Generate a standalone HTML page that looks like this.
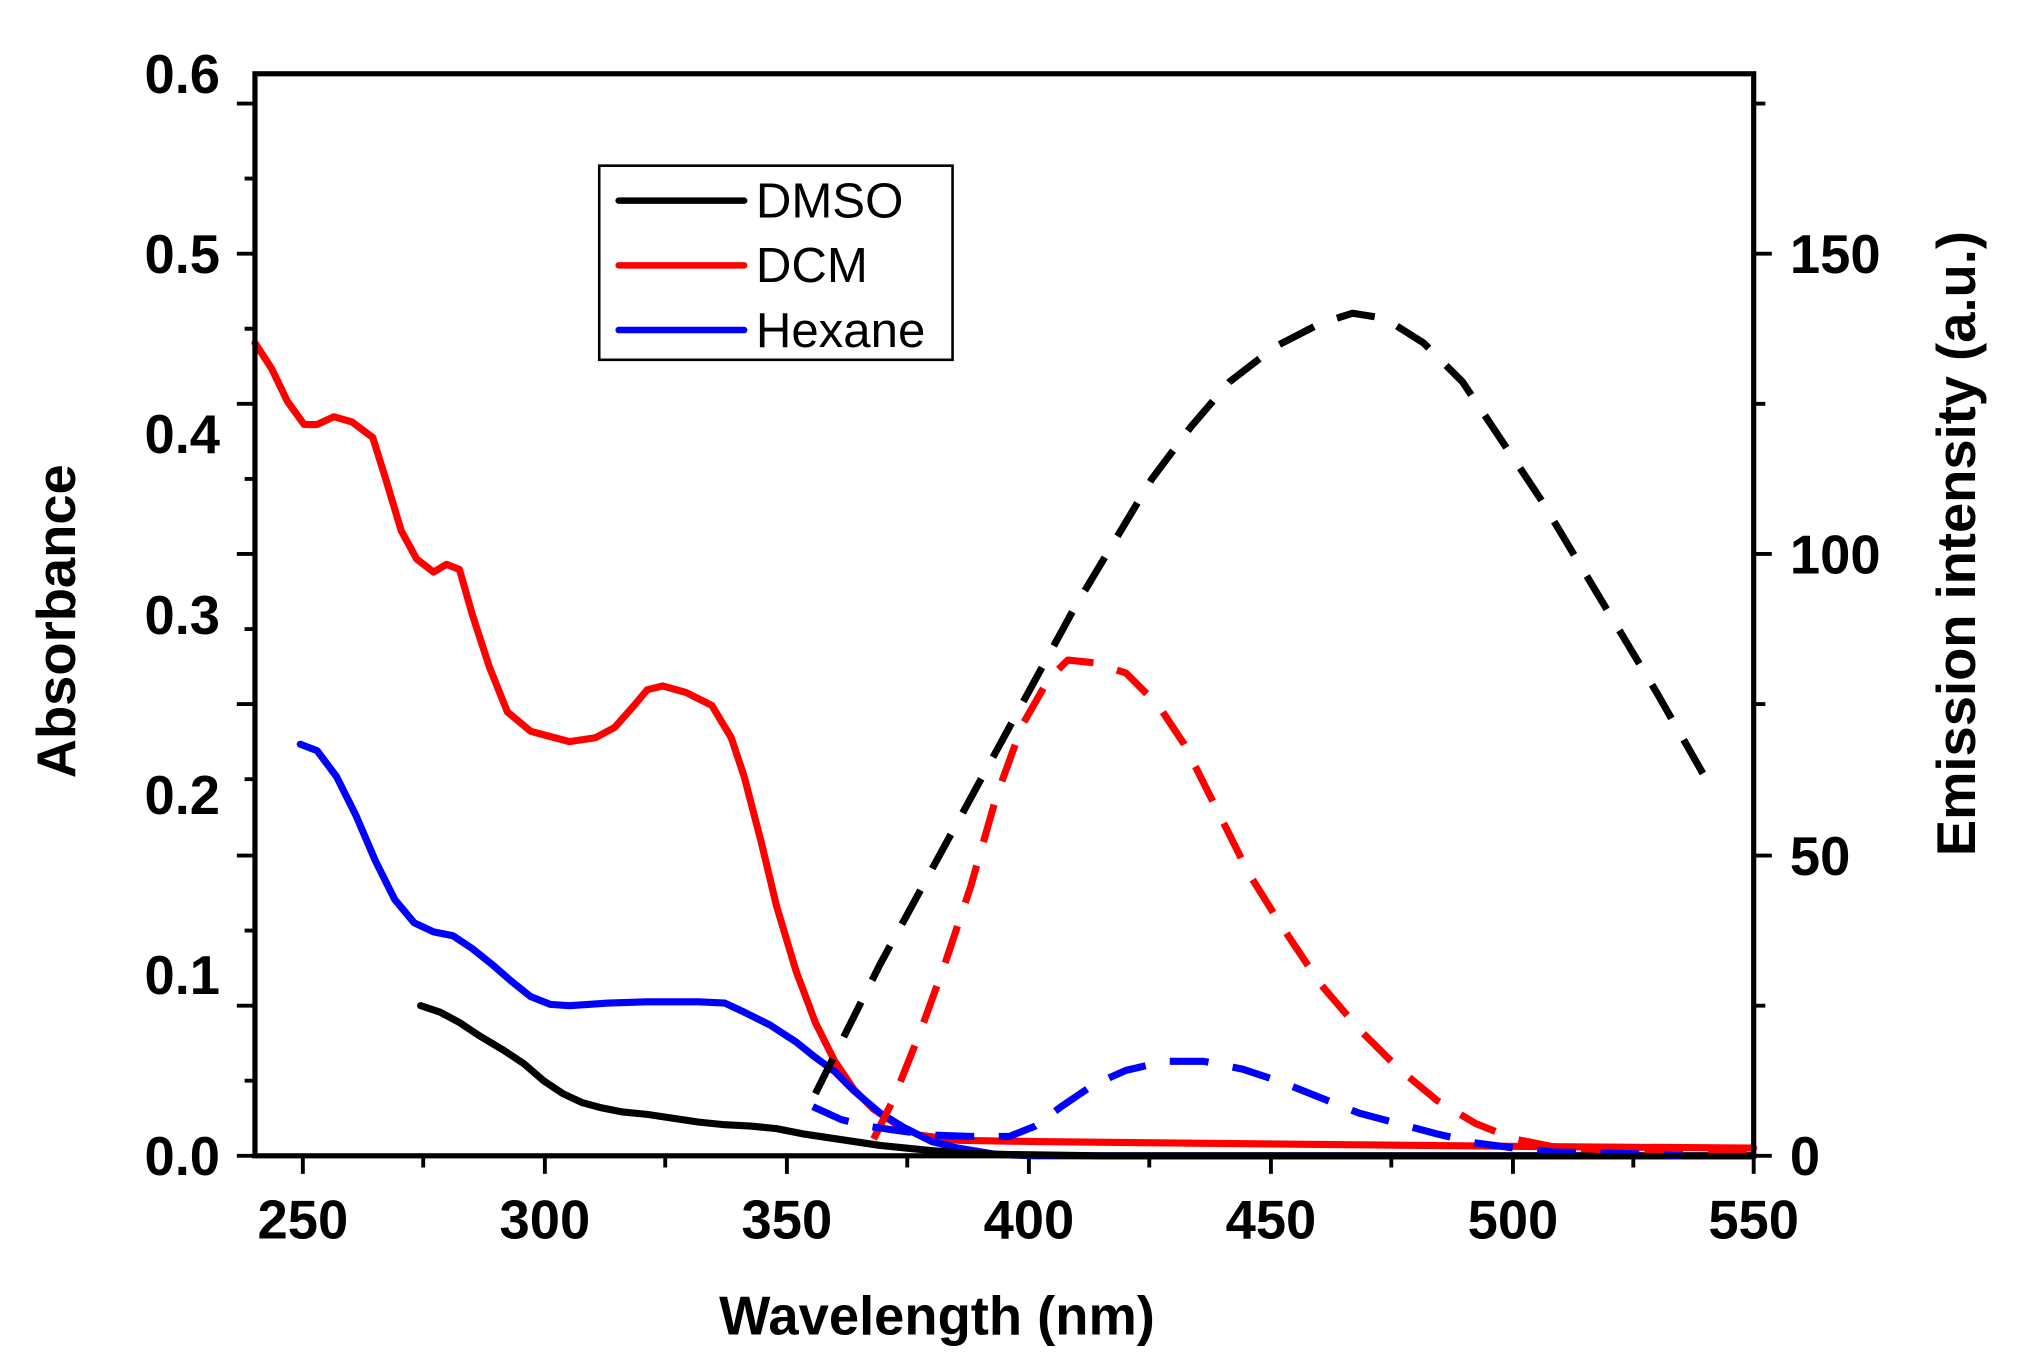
<!DOCTYPE html>
<html><head><meta charset="utf-8"><style>
html,body{margin:0;padding:0;background:#fff;}
svg{display:block;}
text{font-family:"Liberation Sans",Arial,sans-serif;}
.t{font-weight:bold;font-size:42px;}
</style></head><body>
<svg width="2019" height="1359" viewBox="0 0 1560 1050" preserveAspectRatio="none" xmlns="http://www.w3.org/2000/svg">
<rect width="1560" height="1050" fill="#fff"/>
<g stroke="#000" stroke-width="3" fill="none">
<path d="M197 893H183M197 777H183M197 661H183M197 544H183M197 428H183M197 312H183M197 196H183M197 80H183M197 835H189M197 719H189M197 602H189M197 486H189M197 370H189M197 254H189M197 138H189"/>
<path d="M234 893V907M421 893V907M608 893V907M795 893V907M982 893V907M1169 893V907M1355 893V907M327 893V902M514 893V902M701 893V902M888 893V902M1075 893V902M1262 893V902"/>
<path d="M1355 893H1369M1355 661H1369M1355 428H1369M1355 196H1369M1355 777H1364M1355 544H1364M1355 312H1364M1355 80H1364"/>
</g>
<g fill="none" stroke-linejoin="round" stroke-linecap="round" stroke-width="5.5">
<polyline stroke="#ff0000" points="197,265 210,285 222,310 235,328 245,328 258,322 272,326 288,338 298,370 310,410 322,432 335,442 345,436 355,440 365,475 378,515 392,550 410,565 440,573 460,570 475,562 490,545 500,533 512,530 530,535 550,545 565,570 575,600 588,650 600,700 615,750 630,790 645,820 660,842 675,857 690,867 710,877 740,881 800,882 1000,884 1200,886 1355,887"/>
<polyline stroke="#0000ff" points="232,575 245,580 260,600 275,630 290,665 305,695 320,713 335,720 350,723 365,733 380,745 395,758 410,770 425,776 440,777 470,775 500,774 540,774 560,775 575,782 595,792 615,805 630,817 645,828 660,843 680,860 700,872 720,882 740,887 770,892 800,893 1355,893"/>
<polyline stroke="#000" points="325,777 340,782 355,790 370,800 390,812 405,822 420,835 435,845 450,852 465,856 480,859 500,861 520,864 540,867 560,869 580,870 600,872 620,876 640,879 660,882 680,885 700,887 720,889 745,891 780,892 850,893 1355,893"/>
<g stroke-dasharray="30 19" stroke-linecap="butt">
<polyline stroke="#000" points="630,845 655,795 680,745 710,690 740,635 770,580 800,525 830,470 860,420 890,370 920,330 950,295 985,268 1020,250 1045,242 1070,246 1100,265 1130,295 1160,340 1190,385 1220,435 1250,485 1280,535 1300,570 1320,605"/>
<polyline stroke="#ff0000" points="675,880 690,850 710,800 730,745 750,685 770,615 790,560 810,525 825,510 845,512 870,520 895,545 915,575 940,625 965,675 990,715 1020,760 1050,795 1080,825 1110,850 1140,868 1170,880 1200,886 1250,889 1355,889"/>
<polyline stroke="#0000ff" points="628,855 650,865 670,870 690,873 720,877 750,878 780,878 800,870 820,855 845,838 870,827 900,820 930,820 960,826 990,836 1020,848 1050,860 1080,868 1110,876 1140,883 1170,887 1200,890 1250,891 1300,893"/>
</g>
</g>
<rect x="197" y="57" width="1158" height="836" fill="none" stroke="#000" stroke-width="4"/>
<rect x="463" y="128" width="273" height="150" fill="#fff" stroke="#000" stroke-width="2"/>
<g stroke-width="5" stroke-linecap="round">
<line x1="478" y1="155" x2="575" y2="155" stroke="#000"/>
<line x1="478" y1="205" x2="575" y2="205" stroke="#ff0000"/>
<line x1="478" y1="255" x2="575" y2="255" stroke="#0000ff"/>
</g>
<g font-size="38">
<text x="584" y="168">DMSO</text>
<text x="584" y="218">DCM</text>
<text x="584" y="268">Hexane</text>
</g>
<g class="t" text-anchor="end">
<text x="170" y="908">0.0</text>
<text x="170" y="768">0.1</text>
<text x="170" y="629">0.2</text>
<text x="170" y="490">0.3</text>
<text x="170" y="350">0.4</text>
<text x="170" y="211">0.5</text>
<text x="170" y="72">0.6</text>
</g>
<g class="t">
<text x="1383" y="908">0</text>
<text x="1383" y="676">50</text>
<text x="1383" y="443">100</text>
<text x="1383" y="211">150</text>
</g>
<g class="t" text-anchor="middle">
<text x="234" y="957">250</text>
<text x="421" y="957">300</text>
<text x="608" y="957">350</text>
<text x="795" y="957">400</text>
<text x="982" y="957">450</text>
<text x="1169" y="957">500</text>
<text x="1355" y="957">550</text>
<text x="724" y="1031">Wavelength (nm)</text>
<text transform="translate(58,480) rotate(-90)">Absorbance</text>
<text transform="translate(1526,420) rotate(-90)">Emission intensity (a.u.)</text>
</g>
</svg>
</body></html>
